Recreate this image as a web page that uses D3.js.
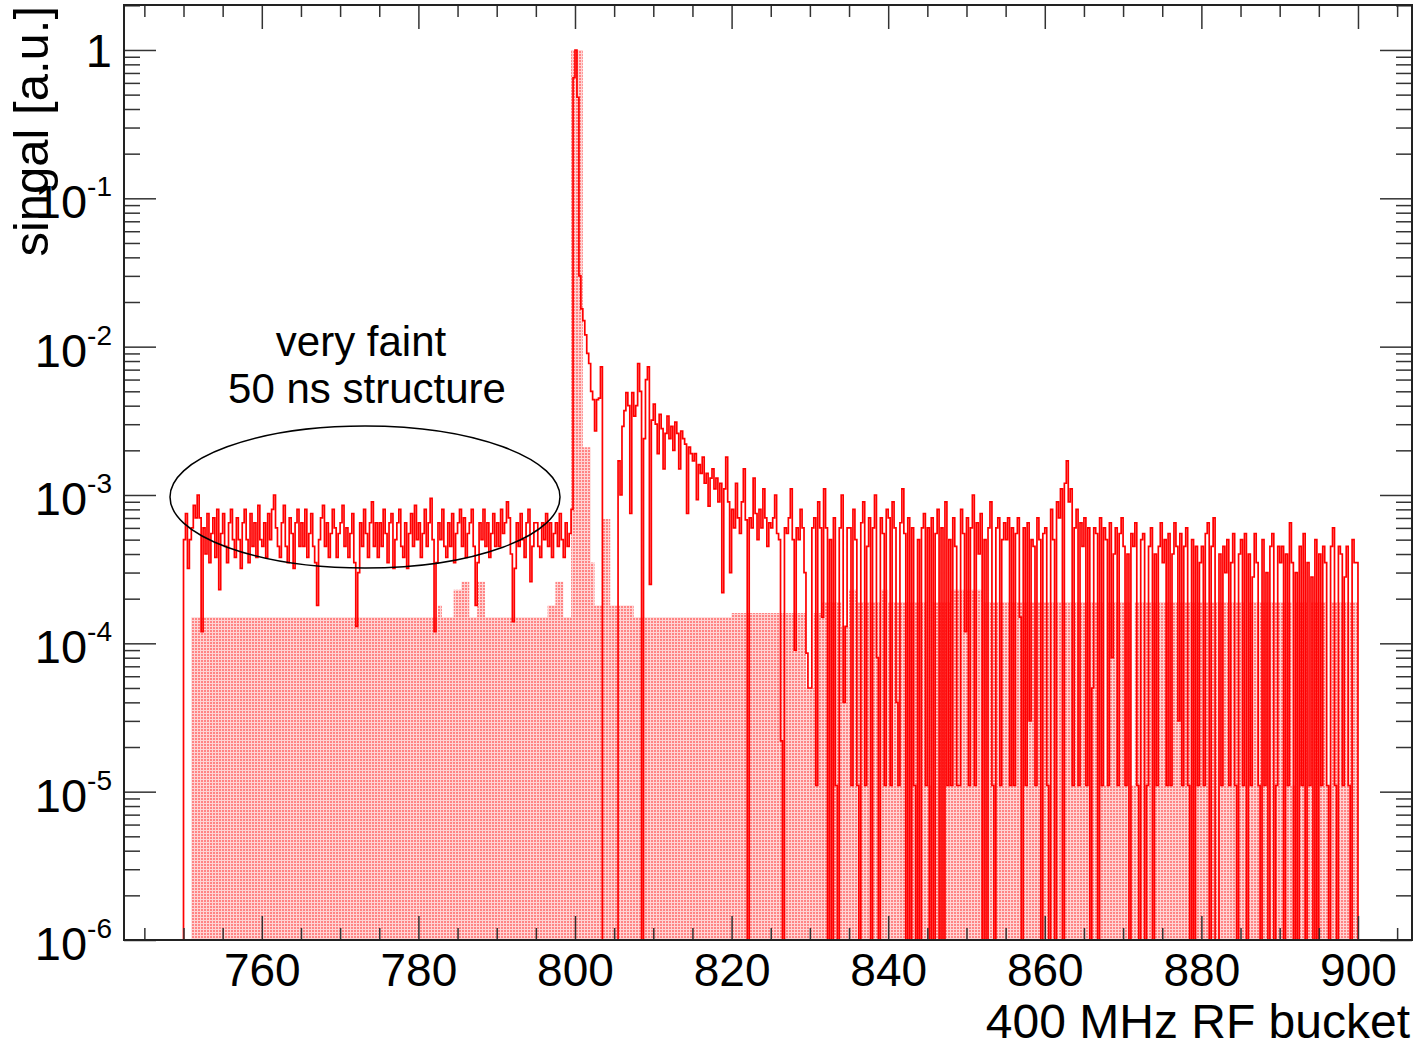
<!DOCTYPE html>
<html>
<head>
<meta charset="utf-8">
<script src="https://cdn.jsdelivr.net/npm/d3@7"></script>
<style>
  body { margin: 0; background: #fff; }
  svg text { font-family: 'Liberation Sans', Arial, sans-serif; }
</style>
</head>
<body>
<div id="chart"></div>
<script>
var width = 1421;
var height = 1049;
var frame = { left: 124, right: 1412, top: 5, bottom: 940 };

// histogram binning (400 MHz RF buckets)
var binStart = 750;
var lineBinWidth = 0.25;
var fillBinWidth = 0.5;
var unit = 1e-4;   // all signal values below are in units of 1e-4

// red line histogram, 0.25 bucket bins, one row = 5 buckets
var lineSignal = [
    5, 7.5, 3.2, 5, 6, 8.5, 7, 10, 7, 1.2, 6, 4, 7.5, 3.5, 5.5, 7, 3.8, 8, 2.3, 5.5,
    7.5, 4.5, 3.5, 6.5, 8, 5, 3.8, 7, 5, 3.2, 6.5, 8, 5, 3.5, 7.5, 4.5, 6.5, 3.8, 8.5, 5,
    4.5, 6.5, 3.8, 7.5, 5, 8, 10, 6, 4.5, 3.8, 6.5, 8.5, 4.5, 3.5, 7, 5.5, 3.2, 6.5, 8, 4.5,
    6.5, 4.5, 8, 3.8, 5.5, 7.5, 4.5, 3.5, 1.8, 5, 7, 8.5, 4.5, 6.5, 3.8, 5.5, 8, 6, 3.8, 5.5,
    6.5, 8.5, 4.5, 6, 3.8, 5.5, 7.5, 3.5, 1.3, 3, 6.5, 4.5, 8, 5.5, 3.8, 6.5, 9, 4.5, 6.5, 3.8,
    6.5, 4.5, 8, 5.5, 3.5, 6.5, 7.5, 3.2, 5, 6.5, 8, 4.5, 3.8, 6.5, 3.2, 5.5, 7.5, 4.5, 8.5, 5,
    6.5, 3.8, 5.5, 8, 4.5, 6.5, 9.5, 5, 1.2, 3.5, 6.5, 5, 8, 4.5, 3.8, 6.5, 4.5, 7.5, 3.5, 5.5,
    6.5, 8, 4.5, 7, 3.8, 5.5, 6.5, 8, 4.5, 1.8, 3.5, 6.5, 5, 8, 4.5, 6.5, 3.8, 5.5, 7.5, 4.5,
    6.5, 4.5, 8, 5.5, 6.5, 9, 7, 4, 1.4, 3.2, 6.5, 4.5, 7.5, 5, 3.8, 6.5, 8, 2.6, 4.5, 6.5,
    6.5, 4.5, 3.8, 6.5, 5, 7.5, 4.5, 6.5, 3.8, 5.5, 6.5, 4.5, 7.5, 5, 3.8, 6.5, 4.5, 5.5, 8, 6500,
    10000, 4800, 300, 180, 150, 120, 90, 77, 50, 44, 27, 44, 45, 73, 0, 0, 0, 0, 0, 0,
    0, 0, 17, 10, 29, 37, 49, 40, 7.5, 49, 34, 40, 77, 50, 0, 24, 60, 73, 2.5, 32,
    41, 30, 19, 35, 28, 15, 26, 34, 24, 29, 20, 31, 26, 15, 27, 24, 22, 7.5, 21, 19,
    17, 19, 9.3, 16, 14, 18, 12, 14, 8.4, 13, 15, 11, 13, 9, 12, 2.2, 11, 18, 9, 3,
    8, 6, 12, 7, 5.5, 9, 15, 6.8, 0, 7, 6, 13, 7.5, 5, 8, 6, 11, 7, 4.5, 6.5,
    6, 7, 10, 5.5, 5, 0.22, 0, 6, 5.5, 7, 11, 5, 0.9, 6, 5, 8, 6, 3, 0.86, 0.5,
    0.5, 6, 7, 0.11, 9, 6, 1.5, 11, 6, 0, 5, 0, 7, 0.11, 0, 6, 10, 0.4, 1.3, 6,
    6, 0.11, 8, 5, 0.11, 0, 6.5, 9, 0.11, 4.5, 7, 0, 6, 10, 0.8, 0, 7, 5.5, 0.11, 8,
    7, 0.11, 9, 6, 0.4, 0.11, 6.5, 11, 5.5, 0, 7, 0, 6, 0.11, 0, 5, 0, 6, 7.5, 0.11,
    6, 0, 7, 0, 5.5, 8, 0, 6, 0, 9, 0.11, 5, 0.11, 7, 4.5, 0.11, 0.11, 8, 5.5, 1.2,
    7, 0.11, 6, 10, 0.11, 6.5, 4, 7.5, 0, 5, 0, 6, 9, 0.11, 0, 6, 7, 0.11, 5, 6.5,
    5, 7, 0.11, 6, 0.11, 5.5, 7, 1.5, 0, 6, 0.11, 6.5, 0.3, 5, 4.5, 0.11, 7, 5, 0, 5.5,
    6, 0.11, 0, 8, 5, 0, 9, 7, 11, 0, 12, 17, 9, 11, 0.11, 6, 8, 0.11, 6.5, 4.5,
    7, 0.11, 6, 0, 0.5, 6, 5.5, 0, 7, 0.11, 6, 5, 0.11, 6.5, 0.8, 4, 6, 0.11, 5.5, 7,
    4.5, 0.11, 4, 0, 5.5, 4.5, 6.5, 0.11, 0, 5, 5.5, 0, 0.11, 4.5, 6, 0, 4, 0.11, 4.5, 6.5,
    3.5, 5, 0.11, 5.5, 0.11, 4, 6.5, 4.5, 0.3, 5.5, 0.11, 4.5, 6, 0.11, 0, 5, 0, 4.5, 0.11, 3.5,
    4.5, 0.11, 5.5, 6.5, 0, 4.5, 7, 0, 0, 4, 0.11, 4.5, 3, 5, 0.11, 3.5, 5.5, 0.11, 0, 4,
    5, 0.11, 5.5, 0, 4, 0.11, 2.8, 5.5, 3.5, 0.11, 0, 5, 0.11, 3, 0, 4.5, 5.5, 0, 0.11, 4.5,
    3.5, 4.5, 0, 4, 0.11, 6.5, 3.5, 0, 3, 0, 4.5, 0.11, 5.5, 0, 3.5, 0.11, 2.8, 0, 5, 0,
    4, 0.11, 4.5, 3.5, 0.11, 0, 4.5, 6, 0.11, 0, 4.5, 4, 0.11, 2.8, 4.5, 0.11, 0, 5, 3.5, 3.5
];

// shaded histogram, 0.5 bucket bins, one row = 10 buckets
var fillSignal = [
    0, 0, 1.5, 1.5, 1.5, 1.5, 1.5, 1.5, 1.5, 1.5, 1.5, 1.5, 1.5, 1.5, 1.5, 1.5, 1.5, 1.5, 1.5, 1.5,
    1.5, 1.5, 1.5, 1.5, 1.5, 1.5, 1.5, 1.5, 1.5, 1.5, 1.5, 1.5, 1.5, 1.5, 1.5, 1.5, 1.5, 1.5, 1.5, 1.5,
    1.5, 1.5, 1.5, 1.5, 1.5, 1.5, 1.5, 1.5, 1.5, 1.5, 1.5, 1.5, 1.5, 1.5, 1.5, 1.5, 1.5, 1.5, 1.5, 1.5,
    1.5, 1.5, 1.5, 1.5, 1.5, 1.8, 1.5, 1.5, 1.5, 2.3, 2.3, 2.6, 2.6, 1.5, 1.5, 2.6, 2.6, 1.5, 1.5, 1.5,
    1.5, 1.5, 1.5, 1.5, 1.5, 1.5, 1.5, 1.5, 1.5, 1.5, 1.5, 1.5, 1.5, 1.8, 1.8, 2.6, 2.6, 1.5, 1.5, 10000,
    10000, 10000, 21, 21, 3.5, 1.8, 1.8, 6.9, 6.9, 1.8, 1.8, 1.8, 1.8, 1.8, 1.8, 1.5, 1.5, 1.5, 1.5, 1.5,
    1.5, 1.5, 1.5, 1.5, 1.5, 1.5, 1.5, 1.5, 1.5, 1.5, 1.5, 1.5, 1.5, 1.5, 1.5, 1.5, 1.5, 1.5, 1.5, 1.5,
    1.6, 1.6, 1.6, 1.6, 1.6, 1.6, 1.6, 1.6, 1.6, 1.6, 1.6, 1.6, 1.6, 1.6, 1.6, 1.6, 1.6, 1.6, 1.6, 0.5,
    0.5, 1.6, 1.6, 1.9, 1.9, 1.9, 1.9, 1.9, 1.3, 1.3, 2.3, 2.3, 1.9, 1.9, 1.9, 1.9, 1.9, 1.9, 2.3, 2.3,
    1.9, 1.9, 1.9, 1.9, 1.9, 1.9, 1.9, 1.9, 1.9, 1.9, 0.11, 1.9, 1.9, 1.9, 1.9, 1.9, 2.3, 2.3, 2.3, 2.3,
    2.3, 2.3, 2.3, 2.3, 1.9, 1.9, 1.9, 1.9, 1.9, 1.9, 1.9, 1.9, 1.9, 1.9, 1.9, 1.9, 1.9, 1.9, 1.9, 1.9,
    1.9, 1.9, 1.9, 1.9, 1.9, 1.9, 1.9, 1.9, 1.9, 1.9, 1.9, 1.9, 1.9, 1.9, 1.9, 0.11, 1.9, 1.9, 1.9, 1.9,
    1.9, 1.9, 0.11, 1.9, 1.9, 1.9, 1.9, 1.9, 1.9, 1.9, 1.9, 1.9, 1.9, 1.9, 1.9, 1.9, 1.9, 1.9, 1.9, 1.9,
    1.9, 1.9, 1.9, 1.9, 1.9, 1.9, 1.9, 1.9, 1.9, 1.9, 1.9, 0.11, 1.9, 1.9, 1.9, 1.9, 1.9, 1.9, 1.9, 1.9,
    1.9, 1.9, 1.9, 0.11, 1.9, 1.9, 1.9, 0.11, 1.9, 1.9, 1.9, 1.9, 0.11, 1.9, 1.9, 1.9, 1.9, 1.9, 1.9, 1.9
];

var xTicks = [760, 780, 800, 820, 840, 860, 880, 900];
var xMinorTicks = [745, 750, 755, 765, 770, 775, 785, 790, 795, 805, 810, 815, 825, 830, 835,
                   845, 850, 855, 865, 870, 875, 885, 890, 895, 905];
var yTicks = [1e-6, 1e-5, 1e-4, 1e-3, 1e-2, 1e-1, 1];
var yTickExp = ['-6', '-5', '-4', '-3', '-2', '-1', ''];

var svg = d3.select('#chart')
    .append('svg')
        .attr('width', width)
        .attr('height', height)
        .style('background', '#fff');

var x = d3.scaleLinear()
    .domain([742.4, 906.9])
    .range([frame.left, frame.right]);

var y = d3.scaleLog()
    .domain([1e-6, 2.01])
    .range([frame.bottom, frame.top])
    .clamp(true);

// minor y ticks 2..9 per decade
var yMinorTicks = [];
yTicks.forEach(function(d) {
    [2, 3, 4, 5, 6, 7, 8, 9].forEach(function(m) {
        if (m * d <= 2.01) yMinorTicks.push(m * d);
    });
});

var defs = svg.append('defs');
var pat = defs.append('pattern')
    .attr('id', 'dots')
    .attr('width', 3)
    .attr('height', 3)
    .attr('patternUnits', 'userSpaceOnUse');
pat.append('rect').attr('width', 3).attr('height', 3).attr('fill', '#ffd4d4');
pat.append('rect').attr('width', 2).attr('height', 2).attr('fill', '#ff8484');

defs.append('clipPath').attr('id', 'clip')
    .append('rect')
        .attr('x', frame.left)
        .attr('y', frame.top)
        .attr('width', frame.right - frame.left)
        .attr('height', frame.bottom - frame.top);

function yPos(v) {
    return v > 0 ? y(v * unit) : frame.bottom + 3;
}

function stepPath(vals, w, close) {
    var p = d3.path();
    p.moveTo(x(binStart), frame.bottom + 3);
    vals.forEach(function(v, i) {
        var yy = yPos(v);
        p.lineTo(x(binStart + i * w), yy);
        p.lineTo(x(binStart + (i + 1) * w), yy);
    });
    p.lineTo(x(binStart + vals.length * w), frame.bottom + 3);
    if (close) p.closePath();
    return p.toString();
}

var plot = svg.append('g').attr('clip-path', 'url(#clip)');

plot.append('path')
    .attr('d', stepPath(fillSignal, fillBinWidth, true))
    .attr('fill', 'url(#dots)')
    .attr('stroke', 'none');

plot.append('path')
    .attr('d', stepPath(lineSignal, lineBinWidth, false))
    .attr('fill', 'none')
    .attr('stroke', '#ff0000')
    .attr('stroke-width', 1.7);

// axes (ticks pointing into the frame, mirrored on top / right)
function styleAxis(g) {
    g.select('.domain').remove();
    g.selectAll('.tick line').attr('stroke', '#333').attr('stroke-width', 1.5);
}

svg.append('g').attr('transform', 'translate(0,' + frame.bottom + ')')
    .call(d3.axisBottom(x).tickValues(xMinorTicks).tickSize(-12).tickFormat(''))
    .call(styleAxis);

var xAxis = svg.append('g').attr('transform', 'translate(0,' + frame.bottom + ')')
    .call(d3.axisBottom(x).tickValues(xTicks).tickSize(-24).tickPadding(13).tickFormat(d3.format('d')))
    .call(styleAxis);
xAxis.selectAll('text')
    .attr('font-size', 46)
    .attr('font-family', "'Liberation Sans', Arial, sans-serif")
    .attr('fill', '#000');

svg.append('g').attr('transform', 'translate(0,' + frame.top + ')')
    .call(d3.axisTop(x).tickValues(xMinorTicks).tickSize(-12).tickFormat(''))
    .call(styleAxis);
svg.append('g').attr('transform', 'translate(0,' + frame.top + ')')
    .call(d3.axisTop(x).tickValues(xTicks).tickSize(-24).tickFormat(''))
    .call(styleAxis);

svg.append('g').attr('transform', 'translate(' + frame.left + ',0)')
    .call(d3.axisLeft(y).tickValues(yMinorTicks).tickSize(-16).tickFormat(''))
    .call(styleAxis);
svg.append('g').attr('transform', 'translate(' + frame.left + ',0)')
    .call(d3.axisLeft(y).tickValues(yTicks).tickSize(-32).tickFormat(''))
    .call(styleAxis);
svg.append('g').attr('transform', 'translate(' + frame.right + ',0)')
    .call(d3.axisRight(y).tickValues(yMinorTicks).tickSize(-16).tickFormat(''))
    .call(styleAxis);
svg.append('g').attr('transform', 'translate(' + frame.right + ',0)')
    .call(d3.axisRight(y).tickValues(yTicks).tickSize(-32).tickFormat(''))
    .call(styleAxis);

// y tick labels as 10^n
var yLab = svg.append('g').selectAll('text')
    .data(yTicks)
    .enter()
    .append('text')
        .attr('x', 112)
        .attr('y', function(d, i) { return y(d) + (yTickExp[i] === '' ? 17 : 20); })
        .attr('text-anchor', 'end')
        .attr('font-size', 47)
        .attr('fill', '#000');
yLab.each(function(d, i) {
    var t = d3.select(this);
    if (yTickExp[i] === '') {
        t.text('1');
    } else {
        t.append('tspan').text('10');
        t.append('tspan').attr('dy', -22).attr('font-size', 28).text(yTickExp[i]);
    }
});

// frame
svg.append('rect')
    .attr('x', frame.left)
    .attr('y', frame.top)
    .attr('width', frame.right - frame.left)
    .attr('height', frame.bottom - frame.top)
    .attr('fill', 'none')
    .attr('stroke', '#222')
    .attr('stroke-width', 2);

// titles
svg.append('text')
    .attr('transform', 'translate(48,6) rotate(-90)')
    .attr('text-anchor', 'end')
    .attr('font-size', 49)
    .attr('fill', '#000')
    .text('singal [a.u.]');

svg.append('text')
    .attr('x', 1410)
    .attr('y', 1038)
    .attr('text-anchor', 'end')
    .attr('font-size', 48)
    .attr('fill', '#000')
    .text('400 MHz RF bucket');

// annotation
svg.append('ellipse')
    .attr('cx', 365)
    .attr('cy', 497)
    .attr('rx', 195)
    .attr('ry', 71)
    .attr('fill', 'none')
    .attr('stroke', '#000')
    .attr('stroke-width', 1.5);

svg.append('text')
    .attr('x', 361)
    .attr('y', 356)
    .attr('text-anchor', 'middle')
    .attr('font-size', 42)
    .attr('fill', '#000')
    .text('very faint');

svg.append('text')
    .attr('x', 367)
    .attr('y', 403)
    .attr('text-anchor', 'middle')
    .attr('font-size', 42)
    .attr('fill', '#000')
    .text('50 ns structure');
</script>
</body>
</html>
